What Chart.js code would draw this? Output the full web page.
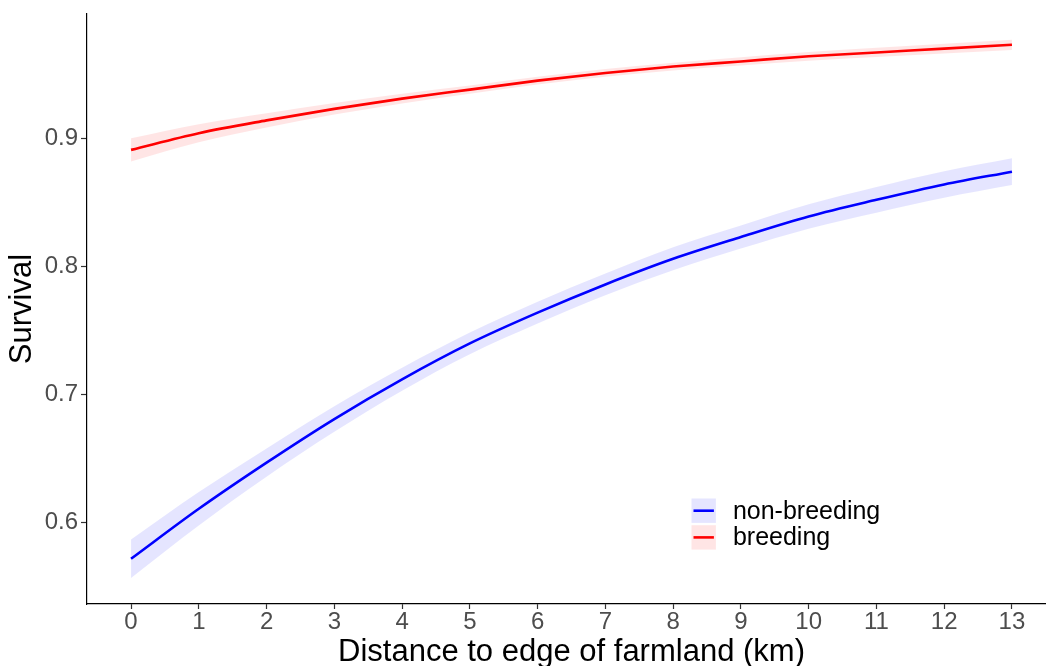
<!DOCTYPE html>
<html>
<head>
<meta charset="utf-8">
<title>Survival vs distance to edge of farmland</title>
<script src="https://cdn.jsdelivr.net/npm/chart.js@4.4.1/dist/chart.umd.min.js"></script>
<style>
  html, body { margin: 0; padding: 0; background: #fff; overflow: hidden; }
  canvas { display: block; }
</style>
</head>
<body>
<!-- panel runs a little past the right edge of the window, like the exported plot -->
<canvas id="survivalChart" width="1056" height="666"></canvas>
<script>
// Distance to edge of farmland (km)
const distanceKm = [0, 1, 2, 3, 4, 5, 6, 7, 8, 9, 10, 11, 12, 13];

// Predicted survival, non-breeding season, with confidence band
const nonBreeding     = [0.572, 0.611, 0.647, 0.681, 0.712, 0.740, 0.764, 0.786, 0.806, 0.823, 0.839, 0.852, 0.864, 0.874];
const nonBreedingLow  = [0.557, 0.598, 0.636, 0.671, 0.703, 0.7315, 0.7555, 0.7775, 0.797, 0.814, 0.8295, 0.842, 0.8537, 0.8635];
const nonBreedingHigh = [0.587, 0.624, 0.658, 0.691, 0.721, 0.7485, 0.7725, 0.7945, 0.815, 0.832, 0.8485, 0.862, 0.8743, 0.8845];

// Predicted survival, breeding season, with confidence band
const breeding     = [0.891, 0.904, 0.914, 0.923, 0.931, 0.938, 0.945, 0.951, 0.956, 0.960, 0.964, 0.967, 0.970, 0.973];
const breedingLow  = [0.882, 0.897, 0.9085, 0.9185, 0.9272, 0.9347, 0.942, 0.948, 0.953, 0.9568, 0.9606, 0.9634, 0.9662, 0.969];
const breedingHigh = [0.900, 0.911, 0.9195, 0.9275, 0.9348, 0.9413, 0.948, 0.954, 0.959, 0.9632, 0.9674, 0.9706, 0.9738, 0.977];

const seriesNames = ['non-breeding', 'breeding'];
const xTicks = [0, 1, 2, 3, 4, 5, 6, 7, 8, 9, 10, 11, 12, 13];
const yTicks = [0.6, 0.7, 0.8, 0.9];

const FONT = '"Liberation Sans", Arial, sans-serif';
const BLUE = '#0000ff', BLUE_FILL = 'rgba(0, 0, 255, 0.1)';
const RED = '#ff0000', RED_FILL = 'rgba(255, 0, 0, 0.1)';

const pts = ys => distanceKm.map((x, i) => ({ x: x, y: ys[i] }));

function band(ys, color, fill) {
    return {
        data: pts(ys),
        borderWidth: 0,
        borderColor: 'transparent',
        backgroundColor: color,
        pointRadius: 0,
        fill: fill,
        cubicInterpolationMode: 'monotone'
    };
}

function curve(label, ys, color) {
    return {
        label: label,
        data: pts(ys),
        borderColor: color,
        borderWidth: 2.6,
        pointRadius: 0,
        fill: false,
        cubicInterpolationMode: 'monotone'
    };
}

// ggplot-style legend drawn inside the plot panel
const legendKeys = [
    { label: seriesNames[0], line: BLUE, fill: BLUE_FILL },
    { label: seriesNames[1], line: RED, fill: RED_FILL }
];

const insideLegend = {
    id: 'insideLegend',
    afterDatasetsDraw(chart) {
        const { ctx, chartArea } = chart;
        const x0 = chartArea.left + 604.5;
        const y0 = chartArea.top + 484.5;
        const key = 24.4, step = 26.7;
        ctx.save();
        legendKeys.forEach((k, i) => {
            const y = y0 + i * step;
            ctx.fillStyle = k.fill;
            ctx.fillRect(x0, y, key, key);
            ctx.strokeStyle = k.line;
            ctx.lineWidth = 2.6;
            ctx.beginPath();
            ctx.moveTo(x0 + 2, y + key / 2);
            ctx.lineTo(x0 + key - 2, y + key / 2);
            ctx.stroke();
            ctx.fillStyle = '#000';
            ctx.font = '25px ' + FONT;
            ctx.textBaseline = 'middle';
            ctx.textAlign = 'left';
            ctx.fillText(k.label, x0 + key + 17, y + key / 2 + 1);
        });
        ctx.restore();
    }
};

const ctx = document.getElementById('survivalChart').getContext('2d');

const chart = new Chart(ctx, {
    type: 'line',
    data: {
        datasets: [
            band(nonBreedingLow, 'transparent', false),
            band(nonBreedingHigh, BLUE_FILL, '-1'),
            band(breedingLow, 'transparent', false),
            band(breedingHigh, RED_FILL, '-1'),
            curve(seriesNames[0], nonBreeding, BLUE),
            curve(seriesNames[1], breeding, RED)
        ]
    },
    options: {
        responsive: false,
        animation: false,
        devicePixelRatio: 1,
        layout: { padding: { top: 14, left: 0, right: 0, bottom: 0 } },
        plugins: {
            legend: { display: false },
            tooltip: { enabled: false }
        },
        scales: {
            x: {
                type: 'linear',
                min: -0.65,
                max: 13.65,
                afterBuildTicks: s => { s.ticks = xTicks.map(v => ({ value: v })); },
                afterFit: s => {
                    s.height = 62;
                    s.paddingLeft = 0;
                    s.paddingRight = 0;
                },
                grid: { drawOnChartArea: false, drawTicks: true, tickLength: 5, tickWidth: 1.2, tickColor: '#333' },
                border: { display: true, color: '#000', width: 1.2 },
                ticks: {
                    color: '#4d4d4d',
                    font: { family: FONT, size: 24 },
                    padding: -1,
                    autoSkip: false,
                    maxRotation: 0
                },
                title: {
                    display: true,
                    text: 'Distance to edge of farmland (km)',
                    color: '#000',
                    font: { family: FONT, size: 31, lineHeight: 0.8 },
                    padding: { top: 0, bottom: 1 }
                }
            },
            y: {
                type: 'linear',
                min: 0.5367,
                max: 0.997,
                afterBuildTicks: s => { s.ticks = yTicks.map(v => ({ value: v })); },
                afterFit: s => {
                    s.width = 87;
                    s.paddingTop = 0;
                    s.paddingBottom = 0;
                },
                grid: { drawOnChartArea: false, drawTicks: true, tickLength: 6, tickWidth: 1.2, tickColor: '#333' },
                border: { display: true, color: '#000', width: 1.2 },
                ticks: {
                    color: '#4d4d4d',
                    font: { family: FONT, size: 24 },
                    padding: 3,
                    callback: v => v.toFixed(1)
                },
                title: {
                    display: true,
                    text: 'Survival',
                    color: '#000',
                    font: { family: FONT, size: 31 },
                    padding: { top: 4, bottom: 0 }
                }
            }
        }
    },
    plugins: [insideLegend]
});
</script>
</body>
</html>
